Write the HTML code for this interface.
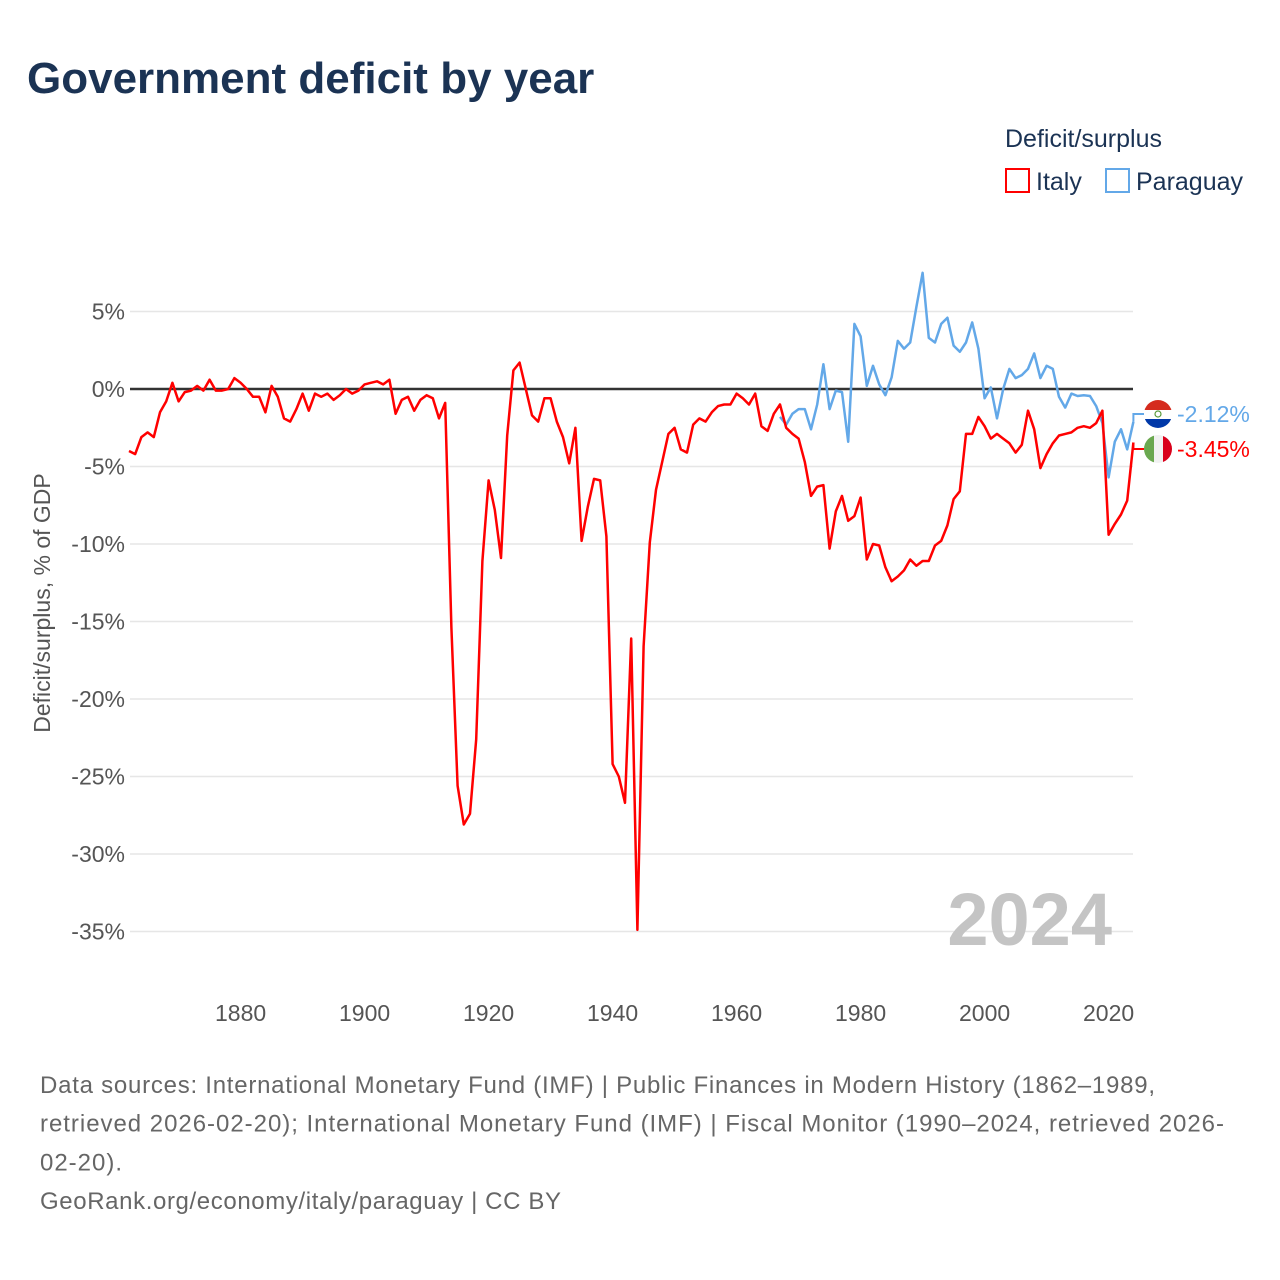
<!DOCTYPE html>
<html><head><meta charset="utf-8"><style>
body{margin:0;background:#fff;font-family:"Liberation Sans",sans-serif;}
#wrap{position:relative;width:1280px;height:1280px;overflow:hidden;}
</style></head><body>
<div id="wrap">
<svg id="chart" width="1280" height="1280" xmlns="http://www.w3.org/2000/svg"></svg>
</div>
<script>
const italyStart = 1862;
const italyValues = [-4.0,-4.2,-3.1,-2.8,-3.1,-1.5,-0.8,0.4,-0.8,-0.2,-0.1,0.2,-0.1,0.6,-0.1,-0.1,0,0.7,0.4,0,-0.5,-0.5,-1.5,0.2,-0.5,-1.9,-2.1,-1.3,-0.3,-1.4,-0.3,-0.5,-0.3,-0.7,-0.4,0,-0.3,-0.1,0.3,0.4,0.5,0.3,0.6,-1.6,-0.7,-0.5,-1.4,-0.7,-0.4,-0.6,-1.9,-0.9,-15.4,-25.6,-28.1,-27.4,-22.6,-11.1,-5.9,-7.8,-10.9,-3.0,1.2,1.7,0,-1.7,-2.1,-0.6,-0.6,-2.1,-3.1,-4.8,-2.5,-9.8,-7.6,-5.8,-5.9,-9.5,-24.2,-25.0,-26.7,-16.1,-34.9,-16.6,-9.9,-6.5,-4.7,-2.9,-2.5,-3.9,-4.1,-2.3,-1.9,-2.1,-1.5,-1.1,-1.0,-1.0,-0.3,-0.6,-1.0,-0.3,-2.4,-2.7,-1.6,-1.0,-2.5,-2.9,-3.2,-4.7,-6.9,-6.3,-6.2,-10.3,-7.9,-6.9,-8.5,-8.2,-7.0,-11.0,-10.0,-10.1,-11.5,-12.4,-12.1,-11.7,-11.0,-11.4,-11.1,-11.1,-10.1,-9.8,-8.8,-7.1,-6.6,-2.9,-2.9,-1.8,-2.4,-3.2,-2.9,-3.2,-3.5,-4.1,-3.6,-1.4,-2.6,-5.1,-4.2,-3.5,-3.0,-2.9,-2.8,-2.5,-2.4,-2.5,-2.2,-1.4,-9.4,-8.7,-8.1,-7.2,-3.45];
const paraguayStart = 1967;
const paraguayValues = [-1.8,-2.3,-1.6,-1.3,-1.3,-2.6,-1.0,1.6,-1.3,-0.1,-0.2,-3.4,4.2,3.4,0.2,1.5,0.3,-0.4,0.75,3.1,2.6,3.0,5.3,7.5,3.3,3.0,4.2,4.6,2.8,2.4,3.0,4.3,2.6,-0.6,0.1,-1.9,0,1.3,0.7,0.9,1.3,2.3,0.7,1.5,1.3,-0.5,-1.2,-0.3,-0.45,-0.4,-0.45,-1.1,-2.2,-5.7,-3.4,-2.6,-3.9,-2.12];
const yTicks = [5,0,-5,-10,-15,-20,-25,-30,-35];
const xTicks = [1880,1900,1920,1940,1960,1980,2000,2020];

const NS="http://www.w3.org/2000/svg";
const svg=document.getElementById('chart');
const X=y=>129+(y-1862)*6.2;
const Y=v=>389-v*15.5;
function mk(tag,attrs,text){const e=document.createElementNS(NS,tag);for(const k in attrs)e.setAttribute(k,attrs[k]);if(text!==undefined)e.textContent=text;svg.appendChild(e);return e;}
const F='"Liberation Sans",sans-serif';

let t=mk('text',{x:27,y:93,'font-size':44,'font-weight':'bold',fill:'#1b3354','font-family':F},'Government deficit by year');



t=mk('text',{x:1005,y:147,'font-size':25,fill:'#1b3354','font-family':F},'Deficit/surplus');


let r=mk('rect',{x:1006,y:169,width:23,height:23,fill:'none',stroke:'#ff0000','stroke-width':2});


t=mk('text',{x:1036,y:190,'font-size':25,fill:'#1b3354','font-family':F},'Italy');


r=mk('rect',{x:1106,y:169,width:23,height:23,fill:'none',stroke:'#63a8e8','stroke-width':2});


t=mk('text',{x:1136,y:190,'font-size':25,fill:'#1b3354','font-family':F},'Paraguay');



yTicks.forEach(v=>{
  const g=mk('line',{x1:130,x2:1133,y1:Y(v),y2:Y(v),stroke:v===0?'#333':'#e6e6e6','stroke-width':v===0?2.5:1.5});
  
  
  const l=mk('text',{x:125,y:Y(v)+8,'text-anchor':'end','font-size':23,fill:'#555','font-family':F},v+'%');
  
  
});
xTicks.forEach(y=>{
  const l=mk('text',{x:X(y),y:1021,'text-anchor':'middle','font-size':23,fill:'#555','font-family':F},String(y));
  
  
});
t=mk('text',{x:0,y:0,transform:'translate(50,603) rotate(-90)','text-anchor':'middle','font-size':23,fill:'#555','font-family':F},'Deficit/surplus, % of GDP');



t=mk('text',{x:1112,y:945,'text-anchor':'end','font-size':74,'font-weight':'bold',fill:'#c4c4c4','font-family':F},'2024');



function path(start,vals){return vals.map((v,i)=>(i?'L':'M')+X(start+i).toFixed(1)+','+Y(v).toFixed(1)).join('');}
let p=mk('path',{d:path(paraguayStart,paraguayValues),fill:'none',stroke:'#63a8e8','stroke-width':2.5,'stroke-linejoin':'round'});


p=mk('path',{d:path(italyStart,italyValues),fill:'none',stroke:'#ff0000','stroke-width':2.5,'stroke-linejoin':'round'});



const pLast=paraguayValues[paraguayValues.length-1], iLast=italyValues[italyValues.length-1];
const xe=X(2024);
let c=mk('path',{d:`M${xe},${Y(pLast)}L${xe},414L1144,414`,fill:'none',stroke:'#63a8e8','stroke-width':2});


c=mk('path',{d:`M${xe},${Y(iLast)}L${xe},449L1144,449`,fill:'none',stroke:'#ff0000','stroke-width':2});



const defs=mk('defs',{});
defs.innerHTML='<clipPath id="cp1"><circle cx="1158" cy="414" r="14"/></clipPath><clipPath id="cp2"><circle cx="1158" cy="449" r="14"/></clipPath>';
let g=document.createElementNS(NS,'g');g.setAttribute('clip-path','url(#cp1)');svg.appendChild(g);


g.innerHTML='<rect x="1144" y="400" width="28" height="10" fill="#d52b1e"/><rect x="1144" y="410" width="28" height="9" fill="#fff"/><rect x="1144" y="419" width="28" height="10" fill="#0038a8"/><circle cx="1158" cy="414" r="3" fill="none" stroke="#5a9a3a" stroke-width="1.2"/>';
g=document.createElementNS(NS,'g');g.setAttribute('clip-path','url(#cp2)');svg.appendChild(g);


g.innerHTML='<rect x="1144" y="435" width="10" height="28" fill="#6aa84f"/><rect x="1154" y="435" width="9" height="28" fill="#f1f1f1"/><rect x="1163" y="435" width="10" height="28" fill="#d9001b"/>';
t=mk('text',{x:1177,y:422,'font-size':23,fill:'#63a8e8','font-family':F},pLast.toFixed(2)+'%');


t=mk('text',{x:1177,y:457,'font-size':23,fill:'#ff0000','font-family':F},iLast.toFixed(2)+'%');



const foot=['Data sources: International Monetary Fund (IMF) | Public Finances in Modern History (1862–1989,','retrieved 2026-02-20); International Monetary Fund (IMF) | Fiscal Monitor (1990–2024, retrieved 2026-','02-20).','GeoRank.org/economy/italy/paraguay | CC BY'];
const footW=[1115,1184,82,521];
foot.forEach((s,i)=>{
  const l=mk('text',{x:40,y:1093+i*38.7,'font-size':24,fill:'#666','font-family':F,textLength:footW[i],lengthAdjust:'spacing'},s);
  
  
});
</script>
</body></html>
